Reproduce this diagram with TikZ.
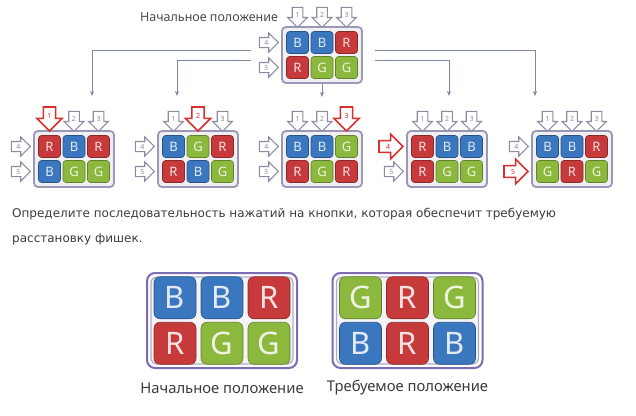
\documentclass[tikz,border=0pt]{standalone}
\usepackage{fontspec}
\newfontfamily\cellfont{Noto Sans}
\newfontfamily\taskfont{DejaVu Sans}
\usetikzlibrary{calc,shapes.arrows,arrows.meta}

\definecolor{cellB}{HTML}{3B77BE}
\definecolor{cellR}{HTML}{C73A3C}
\definecolor{cellG}{HTML}{8DB83E}
\definecolor{frame}{HTML}{9A98B6}
\definecolor{bigframe}{HTML}{7C6CB2}
\definecolor{btngray}{HTML}{8C8CA2}
\definecolor{btnred}{HTML}{D8302C}
\definecolor{conn}{HTML}{7D8AA6}
\definecolor{txt}{HTML}{3C3C3C}

\tikzset{
  cell/.style={draw=cell#1!70!black, line width=0.6pt, fill=cell#1, rounded corners=3pt,
    minimum size=22pt, inner sep=0pt, text=white!85!cell#1,
    font=\cellfont\fontsize{13}{13}\selectfont},
  bigcell/.style={cell=#1, rounded corners=6pt, minimum size=42pt,
    font=\cellfont\fontsize{31}{31}\selectfont},
  box/.style={draw=frame, line width=1.8pt, fill=frame!15, rounded corners=4pt,
    minimum width=80pt, minimum height=56pt, inner sep=0pt},
  bigbox/.style={draw=bigframe, line width=2pt, fill=white, rounded corners=8pt,
    minimum width=150pt, minimum height=95pt, inner sep=0pt},
  bigin/.style={draw=frame!80, line width=1.2pt, fill=frame!10, rounded corners=6pt,
    minimum width=142pt, minimum height=87pt, inner sep=0pt},
  downbtn/.style={single arrow, shape border rotate=270, draw=btngray, fill=white,
    line width=1.1pt, minimum height=20pt, minimum width=18pt, inner sep=2pt,
    text width=5.5pt, text height=5pt, text depth=0pt, align=center,
    single arrow head extend=4.5pt, text=btngray,
    font=\cellfont\fontsize{7}{7}\selectfont},
  rightbtn/.style={downbtn, shape border rotate=0, minimum height=19pt},
  hot/.style={draw=btnred, text=btnred, line width=1.6pt, minimum height=24pt,
    minimum width=24pt, single arrow head extend=6.5pt, inner sep=2.6pt},
  conn/.style={draw=conn, line width=0.9pt, -{Stealth[length=5pt,width=4pt]}},
}

% small grid: name, x, y, row 1, row 2, red button (0 = none)
\newcommand{\smallgrid}[6]{%
  \node[box] (#1) at (#2,#3) {};
  \foreach \l [count=\i] in {#4}
    \node[cell=\l] (#1-a\i) at ($(#1)+(\i*24.5-49,-12.5)$) {\l};
  \foreach \l [count=\i] in {#5}
    \node[cell=\l] (#1-b\i) at ($(#1)+(\i*24.5-49,12.5)$) {\l};
  % buttons
  \foreach \k in {1,2,3}{
    \ifnum\k=#6 \tikzset{cur/.style={hot}}\else\tikzset{cur/.style={}}\fi
    \node[downbtn, cur, anchor=tip, yshift=-2pt] (#1-k\k) at (#1-a\k |- #1.north) {\k};
  }
  \foreach \k/\r in {4/a,5/b}{
    \ifnum\k=#6 \tikzset{cur/.style={hot}}\else\tikzset{cur/.style={}}\fi
    \node[rightbtn, cur, anchor=tip, xshift=-2pt] (#1-k\k) at (#1.west |- #1-\r1) {\k};
  }
}

% big grid: name, x, row 1, row 2
\newcommand{\biggrid}[4]{%
  \node[bigbox] (#1) at (#2,320.5) {};
  \node[bigin] (#1-in) at (#1) {};
  \foreach \l [count=\i] in {#3}
    \node[bigcell=\l] (#1-a\i) at ($(#1)+(\i*47-94,-22.75)$) {\l};
  \foreach \l [count=\i] in {#4}
    \node[bigcell=\l] (#1-b\i) at ($(#1)+(\i*47-94,22.75)$) {\l};
}

\begin{document}
\begin{tikzpicture}[x=1pt, y=-1pt]
    \useasboundingbox[fill=white] (0,0) rectangle (636,415);

    % Start position and the five moves
    \node[text=black!70, font=\cellfont\fontsize{12.5}{12.5}\selectfont] (toplbl) at (209,17) {Начальное положение};
    \smallgrid{top}{322}{55}{B,B,R}{R,G,G}{0}
    \smallgrid{g1}{74}{159}{R,B,R}{B,G,G}{1}
    \smallgrid{g2}{198}{159}{B,G,R}{R,B,G}{2}
    \smallgrid{g3}{322}{159}{B,B,G}{R,G,R}{3}
    \smallgrid{g4}{447}{159}{R,B,B}{R,G,G}{4}
    \smallgrid{g5}{572}{159}{B,B,R}{G,R,G}{5}

    % Connectors
    \coordinate (c1s) at (251,50);  \coordinate (c1e) at (92,96);
    \coordinate (c2s) at (251,60);  \coordinate (c2e) at (177,96);
    \coordinate (c3e) at (322,97);
    \coordinate (c4s) at (375,60);  \coordinate (c4e) at (449,96);
    \coordinate (c5s) at (375,50);  \coordinate (c5e) at (535,96);
    \draw[conn] (c1s) -| (c1e);
    \draw[conn] (c2s) -| (c2e);
    \draw[conn] (top.south) -- (c3e);
    \draw[conn] (c4s) -| (c4e);
    \draw[conn] (c5s) -| (c5e);

    % Task
    \node[anchor=base west, inner sep=0pt, text=txt, font=\taskfont\fontsize{12}{12}\selectfont] (task1) at (12,217)
        {Определите последовательность нажатий на кнопки, которая обеспечит требуемую};
    \node[anchor=base west, inner sep=0pt, text=txt, font=\taskfont\fontsize{12}{12}\selectfont] (task2) at (12,242)
        {расстановку фишек.};

    % Start and goal
    \biggrid{start}{222}{B,B,R}{R,G,G}
    \biggrid{goal}{407.5}{G,R,G}{B,R,B}
    \node[text=txt, font=\cellfont\fontsize{14.8}{14.8}\selectfont] (startlbl) at (222,388) {Начальное положение};
    \node[text=txt, font=\cellfont\fontsize{14.8}{14.8}\selectfont] (goallbl) at (407.5,388) {Требуемое положение};
\end{tikzpicture}
\end{document}
